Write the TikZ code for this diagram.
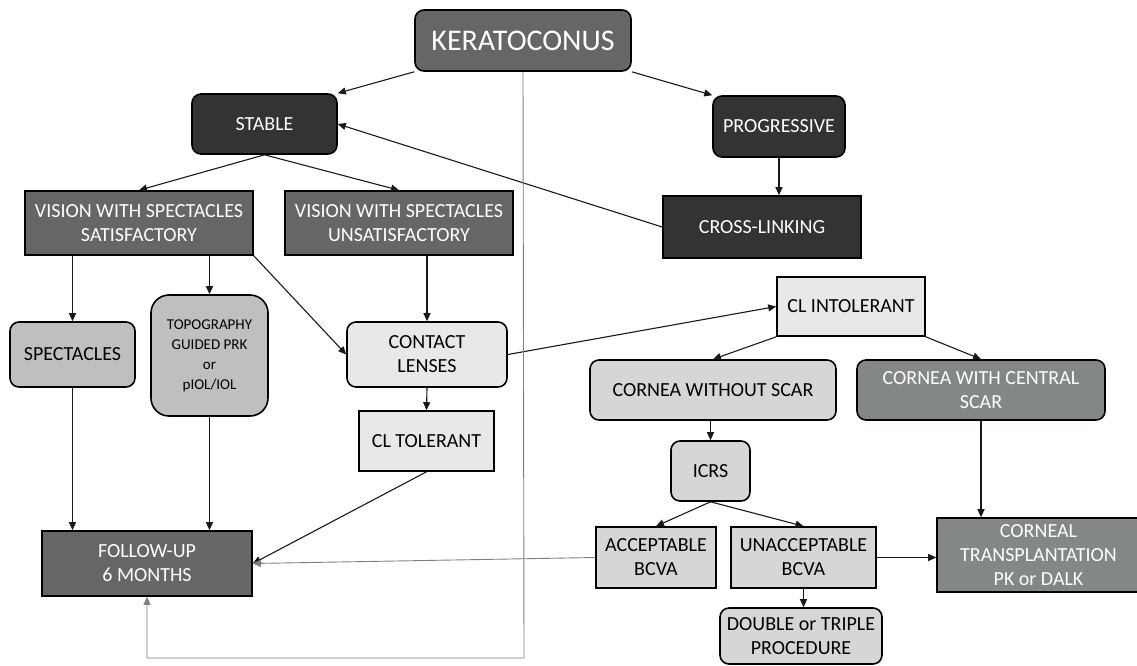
\documentclass[tikz,border=0pt]{standalone}
\usepackage{fontspec}
\setmainfont{Carlito}
\usetikzlibrary{arrows.meta}
\definecolor{greygreen}{RGB}{132,136,132}

\begin{document}
\begin{tikzpicture}[
        x=1pt, y=-1pt,
        every node/.style={draw=black, line width=1.6pt, align=center, inner sep=2pt,
            font=\fontsize{20}{24}\selectfont},
        rbox/.style={rounded corners=9pt},
        darkbox/.style={fill=black!80, text=white},
        midbox/.style={fill=black!60, text=white},
        greenbox/.style={fill=greygreen, text=white},
        silverbox/.style={fill=black!25},
        lightbox/.style={fill=black!16},
        palebox/.style={fill=black!9},
        link/.style={draw=black!90, line width=1.1pt, -{Triangle[length=8pt,width=7pt]}},
        loopback/.style={draw=black!50, line width=0.9pt, -{Triangle[length=8pt,width=7pt]}}
    ]
    \useasboundingbox (0,0) rectangle (1137,665);

    \node[midbox, rbox, minimum width=216pt, minimum height=61pt,
        font=\fontsize{30}{34}\selectfont] (kera) at (523,40.5) {KERATOCONUS};
    \node[darkbox, rbox, minimum width=145pt, minimum height=60pt] (stable) at (264.5,124) {STABLE};
    \node[darkbox, rbox, minimum width=132pt, minimum height=61pt] (prog) at (779,126.5) {PROGRESSIVE};
    \node[darkbox, minimum width=198pt, minimum height=62pt] (cross) at (762,227) {CROSS-LINKING};

    \node[midbox, minimum width=228pt, minimum height=64pt] (vsat) at (139,223)
        {VISION WITH SPECTACLES\\SATISFACTORY};
    \node[midbox, minimum width=228pt, minimum height=64pt] (vunsat) at (399,223)
        {VISION WITH SPECTACLES\\UNSATISFACTORY};

    \node[silverbox, rbox, minimum width=125pt, minimum height=65pt] (spec) at (72.5,354.5) {SPECTACLES};
    \node[silverbox, rounded corners=18pt, minimum width=117pt, minimum height=121pt,
        font=\fontsize{15}{20}\selectfont] (topo) at (209.5,355.5)
        {TOPOGRAPHY\\GUIDED PRK\\or\\pIOL/IOL};
    \node[palebox, rbox, minimum width=160pt, minimum height=65pt] (contact) at (427,354.5)
        {CONTACT\\LENSES};
    \node[palebox, minimum width=135pt, minimum height=60pt] (cltol) at (426.5,441) {CL TOLERANT};
    \node[palebox, minimum width=148pt, minimum height=59pt] (clint) at (851,306.5) {CL INTOLERANT};

    \node[lightbox, rbox, minimum width=246pt, minimum height=60pt] (cwo) at (713,390)
        {CORNEA WITHOUT SCAR};
    \node[greenbox, rbox, minimum width=248pt, minimum height=60pt] (cwc) at (981,390)
        {CORNEA WITH CENTRAL\\SCAR};
    \node[lightbox, rbox, minimum width=79pt, minimum height=60pt] (icrs) at (710.5,471) {ICRS};
    \node[lightbox, minimum width=120pt, minimum height=61pt] (acc) at (656,557.5)
        {ACCEPTABLE\\BCVA};
    \node[lightbox, minimum width=145pt, minimum height=61pt] (unacc) at (803.5,557.5)
        {UNACCEPTABLE\\BCVA};
    \node[lightbox, rbox, minimum width=162pt, minimum height=56pt] (double) at (801,636)
        {DOUBLE or TRIPLE\\PROCEDURE};
    \node[greenbox, minimum width=203pt, minimum height=74pt] (ctrans) at (1038.5,555)
        {CORNEAL\\TRANSPLANTATION\\PK or DALK};

    \node[midbox, minimum width=210pt, minimum height=65pt] (follow) at (147,563.5)
        {FOLLOW-UP\\6 MONTHS};
    \coordinate (loopbase) at (524,658);

    \draw[link] (kera.south west) -- (stable.north east);
    \draw[link] (kera.south east) -- (prog.north west);
    \draw[link] (prog.south) -- (prog.south |- cross.north);
    \draw[link] (cross.west) -- (stable.east);
    \draw[link] (stable.south) -- (vsat.north);
    \draw[link] (stable.south) -- (vunsat.north);
    \draw[link] (vsat.south -| spec.north) -- (spec.north);
    \draw[link] (vsat.south -| topo.north) -- (topo.north);
    \draw[link] (vsat.south east) -- (contact.west);
    \draw[link] (vunsat.south -| contact.north) -- (contact.north);
    \draw[link] (contact.south) -- (cltol.north);
    \draw[link] (contact.east) -- (clint.west);
    \draw[link] (clint.south west) -- (cwo.north);
    \draw[link] (clint.south east) -- (cwc.north);
    \draw[link] (cwo.south -| icrs.north) -- (icrs.north);
    \draw[link] (icrs.south) -- (acc.north);
    \draw[link] (icrs.south) -- (unacc.north);
    \draw[link] (unacc.south) -- (unacc.south |- double.north);
    \draw[link] (unacc.east) -- (unacc.east -| ctrans.west);
    \draw[link] (cwc.south) -- (cwc.south |- ctrans.north);
    \draw[link] (spec.south) -- (spec.south |- follow.north);
    \draw[link] (topo.south) -- (topo.south |- follow.north);
    \draw[link] (cltol.south) -- (follow.east);
    \draw[loopback] (acc.west) -- (follow.east);
    \draw[loopback] (kera.south) -- (loopbase) -| (follow.south);
\end{tikzpicture}
\end{document}
